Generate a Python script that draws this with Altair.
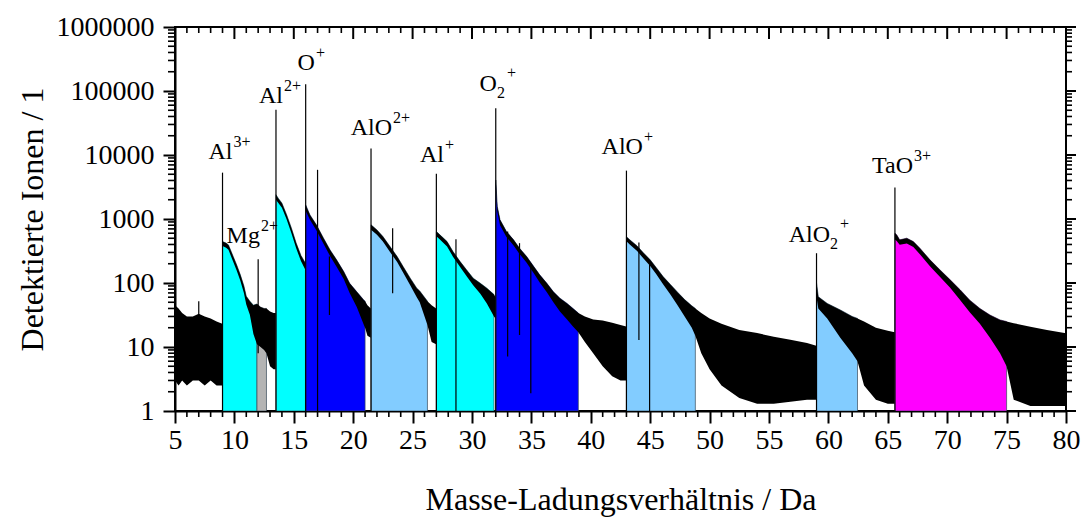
import altair as alt
import pandas as pd

# Mass spectrum trace: mass-to-charge ratio (Da) with upper and lower edge of the counts band
spec_mass = [5.0, 5.3, 5.6, 6.0, 6.5, 7.0, 7.5, 8.0, 8.5, 8.98,
             9.0, 9.3, 9.5, 9.9, 10.2, 10.5, 10.8, 11.0, 11.3, 11.6, 11.9,
             12.2, 12.5, 12.7, 13.0, 13.3, 13.48,
             13.5, 13.7, 14.0, 14.4, 14.8, 15.2, 15.6, 15.98,
             16.0, 16.36, 16.9, 17.5, 18.05, 18.6, 19.2, 19.7, 20.3, 20.9, 21.0,
             21.2, 21.48,
             21.5, 22.0, 22.5, 23.1, 23.7, 24.2, 24.8, 25.35, 25.6, 26.25,
             26.6, 26.98,
             27.0, 27.3, 27.9, 28.4, 29.0, 29.55, 30.1, 30.7, 31.25, 31.85,
             31.98,
             32.0, 32.13, 32.36, 32.9, 33.5, 34.0, 34.6, 35.2, 35.7, 36.3, 36.85, 37.4, 38.0, 38.5, 38.95,
             39.5, 40.2, 41.0, 41.8, 42.5, 42.98,
             43.0, 43.3, 43.9, 44.4, 45.0, 45.5, 46.1, 46.7, 47.3, 47.9, 48.5, 48.8,
             49.3, 50.0, 51.0, 52.5, 54.0, 55.4, 56.8, 58.2, 58.98,
             59.0, 59.15, 59.9, 61.0, 62.0, 62.45,
             63.0, 64.0, 65.0, 65.58,
             65.6, 65.75, 66.0, 66.6, 67.15, 67.7, 68.55, 69.4, 70.25, 71.1, 71.9, 72.75, 73.6, 74.45, 75.0,
             75.6, 77.0, 78.4, 80.0]
spec_upper = [45, 40, 34, 30, 30, 33, 30, 28, 25, 23,
              444, 420, 394, 259, 190, 134, 90, 62, 52, 45, 47,
              42, 40, 40, 36, 34, 34,
              2400, 2100, 1770, 1160, 720, 420, 270, 204,
              1660, 1160, 811, 502, 329, 230, 151, 99, 73, 54, 52,
              45, 40,
              811, 676, 532, 371, 259, 181, 119, 83, 75, 52,
              45, 40,
              637, 565, 444, 310, 216, 160, 119, 99, 83, 66,
              60,
              4070, 1567, 970, 637, 472, 350, 259, 181, 134, 99, 73, 58, 48, 40, 34,
              30, 27, 26, 24, 22, 21,
              530, 470, 380, 300, 230, 175, 125, 95, 72, 55, 44, 40,
              34, 28, 23, 18.5, 16.5, 14.5, 13, 11.5, 10.5,
              100, 61, 48, 38, 30, 28,
              25, 20, 18, 17,
              600, 565, 472, 502, 444, 350, 230, 160, 112, 78, 54, 40, 31.6, 26.5, 25,
              23.5, 20.8, 18.5, 16.4]
spec_lower = [3, 2.5, 3, 2.5, 3, 3, 2.5, 3, 2.5, 2.5,
              380, 355, 330, 215, 155, 108, 70, 46, 32, 16, 11,
              10, 9, 8, 5, 4.5, 4.5,
              2000, 1780, 1500, 980, 600, 350, 220, 160,
              1350, 970, 670, 410, 265, 180, 115, 70, 42, 22, 20,
              15, 14,
              680, 565, 445, 305, 212, 146, 92, 60, 50, 22,
              12, 11,
              540, 478, 372, 258, 178, 128, 92, 68, 48, 30,
              28,
              3000, 1300, 800, 525, 385, 285, 208, 142, 102, 72, 50, 36, 27, 21, 17,
              12, 8, 5, 3.5, 3, 3,
              450, 395, 315, 245, 185, 138, 95, 66, 45, 30, 20, 15,
              8, 4.5, 2.5, 1.6, 1.3, 1.3, 1.4, 1.5, 1.5,
              60, 40, 28, 14, 8, 6,
              2.5, 1.5, 1.3, 1.3,
              480, 455, 395, 415, 365, 282, 182, 124, 84, 54, 35, 23, 14, 8, 5,
              1.5, 1.2, 1.2, 1.2]

# Narrow single-channel spikes (mass, bottom, top)
spike_mass = [7.0, 9.0, 12.0, 13.5, 16.0, 17.0, 18.0, 21.5, 23.32, 27.0, 28.65,
              32.0, 33.0, 34.0, 34.95, 43.0, 44.05, 44.95, 59.0, 65.6]
spike_low = [20, 1, 8, 1, 1, 1, 31.6, 1, 69, 1, 1,
             1, 7.1, 15.4, 1.9, 1, 12.9, 1, 1, 1]
spike_high = [52, 5300, 236, 51000, 127000, 5870, 260, 12600, 719, 5080, 484,
              54000, 637, 419, 204, 5700, 428, 206, 292, 3100]

# Ranging windows for the identified ions
range_start = [9.0, 11.9, 13.5, 16.0, 21.5, 27.0, 32.0, 43.0, 59.0, 65.6]
range_end = [11.9, 12.7, 15.98, 21.0, 26.25, 31.85, 38.95, 48.8, 62.45, 75.0]
range_color = ["#00FFFF", "#B4B4B4", "#00FFFF", "#0000FF", "#82CCFF",
               "#00FFFF", "#0000FF", "#82CCFF", "#82CCFF", "#FF00FF"]

# Ion labels: base text, superscript charge, subscript count, anchor mass and count
ann_base = ["Al", "Mg", "Al", "O", "AlO", "Al", "O", "AlO", "AlO", "TaO"]
ann_sup = ["3+", "2+", "2+", "+", "2+", "+", "+", "+", "+", "3+"]
ann_sub = ["", "", "", "", "", "", "2", "", "2", ""]
ann_mass = [9.84, 12.15, 14.09, 16.78, 23.27, 27.64, 32.10, 44.39, 60.14, 67.12]
ann_count = [8630, 424, 64800, 209500, 20700, 7910, 98400, 10440, 444, 5320]

# Axis ticks
x_major = [5, 10, 15, 20, 25, 30, 35, 40, 45, 50, 55, 60, 65, 70, 75, 80]
x_minor = [v for v in range(5, 81) if v not in x_major]
y_major = [1, 10, 100, 1000, 10000, 100000, 1000000]
y_minor = [k * 10 ** e for e in range(0, 6) for k in range(2, 10)]

W, H = 891, 384
FONT = "Liberation Serif"

spec = pd.DataFrame({"mass": spec_mass, "upper": spec_upper, "lower": spec_lower})

fill_rows = []
for i, (a, b) in enumerate(zip(range_start, range_end)):
    part = spec[(spec["mass"] >= a) & (spec["mass"] <= b)].copy()
    part["region"] = i
    fill_rows.append(part)
fills = pd.concat(fill_rows, ignore_index=True)
fills["base"] = 1.0

spikes = pd.DataFrame({"mass": spike_mass, "low": spike_low, "high": spike_high})
ann = pd.DataFrame({"base": ann_base, "sup": ann_sup, "sub": ann_sub,
                    "mass": ann_mass, "count": ann_count})

xscale = alt.Scale(domain=[5, 80], nice=False, zero=False)
yscale = alt.Scale(type="log", domain=[1, 1000000], nice=False)

xaxis = alt.Axis(values=x_major, title="Masse-Ladungsverhältnis / Da",
                 tickSize=12, labelPadding=3, titlePadding=30, labelFlush=False)
yaxis = alt.Axis(values=y_major, format="d", title="Detektierte Ionen / 1",
                 tickSize=12, labelPadding=9, titlePadding=7, labelFlush=False)


def X(field):
    return alt.X(field, scale=xscale, axis=xaxis)


def Y(field, **kw):
    return alt.Y(field, scale=yscale, axis=yaxis, **kw)


fill_layer = alt.Chart(fills).mark_area(clip=True, stroke="#3a4a5a", strokeWidth=0.7).encode(
    x=X("mass:Q"),
    y=Y("upper:Q", stack=None),
    y2="base:Q",
    color=alt.Color("region:N", scale=alt.Scale(domain=list(range(len(range_color))),
                                                range=range_color), legend=None),
)

band_layer = alt.Chart(spec).mark_area(color="black", clip=True).encode(
    x=X("mass:Q"),
    y=Y("upper:Q", stack=None),
    y2="lower:Q",
)

spike_layer = alt.Chart(spikes).mark_rule(color="black", strokeWidth=1.2, clip=True).encode(
    x=X("mass:Q"),
    y=Y("high:Q"),
    y2="low:Q",
)


# Minor ticks on the left and bottom axes, mirror ticks on top and right
def xticks(values, y0, y1, width):
    return alt.Chart(pd.DataFrame({"v": values})).mark_rule(color="black", strokeWidth=width).encode(
        x=X("v:Q"), y=alt.value(y0), y2=alt.value(y1))


def yticks(values, x0, x1, width):
    return alt.Chart(pd.DataFrame({"v": values})).mark_rule(color="black", strokeWidth=width).encode(
        y=Y("v:Q"), x=alt.value(x0), x2=alt.value(x1))


tick_layers = [
    xticks(x_minor, H, H + 6, 1.6),
    xticks(x_major, 0, 12, 2),
    xticks(x_minor, 0, 6, 1.6),
    yticks(y_minor, 0, -7, 1.6),
    yticks(y_major, W, W + 10, 2),
    yticks(y_minor, W, W + 6, 1.6),
]

text_style = dict(font=FONT, baseline="alphabetic", color="black")

base_text = alt.Chart(ann).mark_text(fontSize=24, align="right", **text_style).encode(
    x=X("mass:Q"), y=Y("count:Q"), text="base:N",
)
sup_plain = alt.Chart(ann).transform_filter("datum.sub == ''").mark_text(
    fontSize=16, align="left", dx=1, dy=-12, **text_style).encode(
    x=X("mass:Q"), y=Y("count:Q"), text="sup:N",
)
sup_after_sub = alt.Chart(ann).transform_filter("datum.sub != ''").mark_text(
    fontSize=16, align="left", dx=10, dy=-13, **text_style).encode(
    x=X("mass:Q"), y=Y("count:Q"), text="sup:N",
)
sub_text = alt.Chart(ann).transform_filter("datum.sub != ''").mark_text(
    fontSize=16, align="left", dx=0, dy=7, **text_style).encode(
    x=X("mass:Q"), y=Y("count:Q"), text="sub:N",
)

chart = alt.layer(
    fill_layer, band_layer, spike_layer, *tick_layers,
    base_text, sup_plain, sup_after_sub, sub_text,
).properties(
    width=W, height=H,
    padding={"left": 175, "top": 27, "right": 19, "bottom": 107},
    autosize=alt.AutoSizeParams(type="none"),
    background="white",
).configure_view(
    stroke="black", strokeWidth=2,
).configure_axis(
    grid=False, domainColor="black", domainWidth=2, tickColor="black", tickWidth=2,
    labelFont=FONT, labelFontSize=28, labelColor="black",
    titleFont=FONT, titleFontSize=32, titleFontWeight="normal", titleColor="black",
)

chart.save("out.html", embed_options={"renderer": "svg", "actions": False})
